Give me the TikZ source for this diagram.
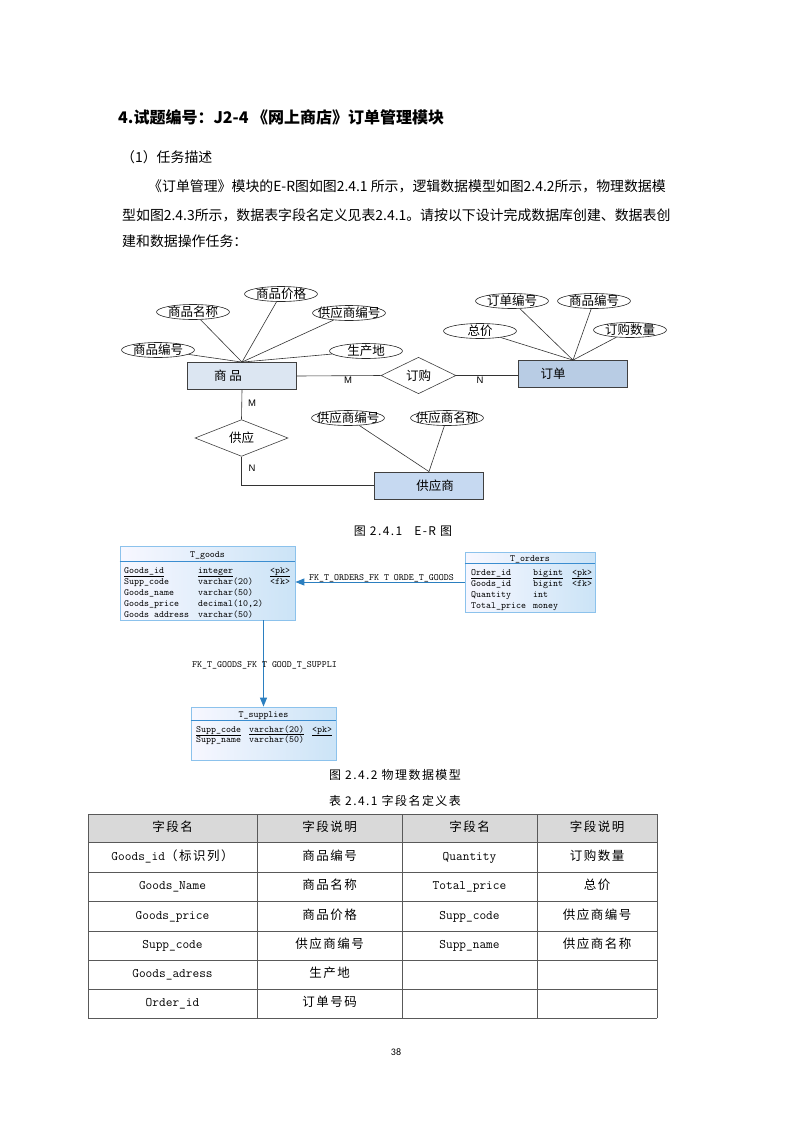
\documentclass[tikz,border=0pt]{standalone}
\usepackage{fontspec}
\newfontfamily\cjk{Noto Sans CJK SC}
\newfontfamily\cjksp[LetterSpace=12]{Noto Sans CJK SC}
\newfontfamily\pnum{Carlito}
\newfontfamily\lsans{Liberation Sans}
\usetikzlibrary{shapes.geometric,arrows.meta,calc}
\definecolor{gfill}{HTML}{DCE6F2}
\definecolor{ofill}{HTML}{B8CCE4}
\definecolor{sfill}{HTML}{C6D9F1}
\definecolor{boxc}{HTML}{8CC2EC}
\definecolor{sepc}{HTML}{3A8DD0}
\definecolor{fkc}{HTML}{2B7FC0}
\definecolor{hdr}{HTML}{D9D9D9}
\newcommand\et[1]{\smash{\makebox[0pt]{\raisebox{-0.38em}{#1}}}}
\newcommand\fs[1]{\fontsize{#1}{#1}\selectfont}
\begin{document}
\begin{tikzpicture}[x=1pt,y=-1pt,
  ln/.style={draw=black!80, line width=0.6pt},
  ent/.style={draw=black!75, line width=0.8pt, fill=#1, minimum width=109pt, minimum height=27pt, inner sep=0pt},
  entlab/.style={font=\cjk\fs{12.5}},
  attr/.style={ellipse, draw=black!85, line width=0.6pt, fill=white, minimum width=73pt, minimum height=15pt, inner sep=0pt, font=\cjk\fs{12.5}},
  rel/.style={diamond, draw=black!75, line width=0.6pt, fill=white, inner sep=0pt, font=\cjk\fs{12.5}},
  card/.style={font=\lsans\fs{9.5}, inner sep=0pt},
  tbox/.style={draw=boxc, line width=0.8pt, left color=blue!3, right color=boxc!45, inner sep=0pt},
  sepl/.style={draw=sepc, line width=1.3pt},
  tt/.style={font=\ttfamily\fs{9.5}, inner sep=0pt, anchor=west, text height=6.5pt, text depth=2.5pt},
  ttc/.style={font=\ttfamily\fs{9.5}, inner sep=0pt, text height=6.5pt, text depth=2.5pt},
  fk/.style={draw=fkc, line width=1pt, -{Triangle[length=9pt,width=7pt]}},
  body/.style={font=\cjk\fs{13.9}, inner sep=0pt, anchor=west},
  captext/.style={font=\cjksp\fs{12}, inner sep=0pt},
  cell/.style={font=\cjksp\fs{12.5}, inner sep=0pt, text height=9pt, text depth=3pt},
  mcell/.style={font=\ttfamily\fs{13}, inner sep=0pt, text height=9pt, text depth=3pt},
  gridline/.style={draw=black!65, line width=0.9pt}
]
\useasboundingbox[fill=white] (0,0) rectangle (793,1122);

% ---------- heading and text ----------
\node[body, font=\cjk\bfseries\fs{16}] (title) at (118,117) {4.试题编号：J2-4 《网上商店》订单管理模块};
\node[body] (sub) at (121,157) {（1）任务描述};
\node[body] (p1) at (148,186) {《订单管理》模块的E-R图如图2.4.1 所示，逻辑数据模型如图2.4.2所示，物理数据模};
\node[body] (p2) at (122,215) {型如图2.4.3所示，数据表字段名定义见表2.4.1。请按以下设计完成数据库创建、数据表创};
\node[body] (p3) at (122,241) {建和数据操作任务：};

% ---------- E-R diagram ----------
\node[ent=gfill, label={[entlab, xshift=-14pt]center:商\ 品}] (sp) at (242,376) {};
\node[ent=ofill, label={[entlab, xshift=-20pt]center:订单}] (dd) at (573,374) {};
\node[ent=sfill, label={[entlab, xshift=6pt]center:供应商}] (gys) at (429,485.5) {};

\node[attr] (a1) at (281,294) {\et{商品价格}};
\node[attr] (a2) at (193,312) {\et{商品名称}};
\node[attr] (a3) at (349,313) {\et{供应商编号}};
\node[attr] (a4) at (158,350) {\et{商品编号}};
\node[attr] (a5) at (366,351) {\et{生产地}};

\node[attr] (b1) at (512,301) {\et{订单编号}};
\node[attr] (b2) at (594,301) {\et{商品编号}};
\node[attr] (b3) at (480,331) {\et{总价}};
\node[attr] (b4) at (630,330) {\et{订购数量}};

\node[attr] (c1) at (348,418) {\et{供应商编号}};
\node[attr] (c2) at (447,418) {\et{供应商名称}};

\node[rel, minimum width=75pt, minimum height=35pt] (dg) at (418.5,375.5) {订购};
\node[rel, minimum width=93pt, minimum height=34pt] (gy) at (241.5,438) {供应};

\foreach \a in {a1,a2,a3,a4,a5} \draw[ln] (sp.north) -- (\a);
\foreach \b in {b1,b2,b3,b4} \draw[ln] (dd.north) -- (\b);
\foreach \c in {c1,c2} \draw[ln] (gys.north) -- (\c);

\draw[ln] (sp.east) -- (dg.west);
\draw[ln] (dg.east) -- (dd.west |- dg.east);
\draw[ln] (sp.south) -- (gy.north);
\draw[ln] (gy.south) -- (gy.south |- gys.west) -- (gys.west);

\node[card] (m1) at (348,380) {M};
\node[card] (n1) at (480,380) {N};
\node[card] (m2) at (252,403) {M};
\node[card] (n2) at (252,468) {N};

\node[captext] (cap1) at (403,531) {图 2.4.1\quad E-R 图};

% ---------- physical model ----------
\node[tbox, minimum width=175pt, minimum height=74pt] (tgood) at (207.5,583) {};
\draw[sepl] ($(tgood.north west)+(0,16)$) -- ($(tgood.north east)+(0,16)$);
\node[ttc] (tgt) at (207.5,555) {T\_goods};
\node[tt] (g1n) at (124,571) {\underline{Goods\_id}};
\node[tt] (g1t) at (198,571) {\underline{integer}};
\node[tt] (g1k) at (270,571) {\underline{<pk>}};
\node[tt] (g2n) at (124,582) {Supp\_code};
\node[tt] (g2t) at (198,582) {varchar(20)};
\node[tt] (g2k) at (270,582) {<fk>};
\node[tt] (g3n) at (124,593) {Goods\_name};
\node[tt] (g3t) at (198,593) {varchar(50)};
\node[tt] (g4n) at (124,604) {Goods\_price};
\node[tt] (g4t) at (198,604) {decimal(10,2)};
\node[tt] (g5n) at (124,615) {Goods address};
\node[tt] (g5t) at (198,615) {varchar(50)};

\node[tbox, minimum width=130pt, minimum height=60pt] (tord) at (530,582) {};
\draw[sepl] ($(tord.north west)+(0,12)$) -- ($(tord.north east)+(0,12)$);
\node[ttc] (tot) at (530,559) {T\_orders};
\node[tt] (o1n) at (471,573) {\underline{Order\_id}};
\node[tt] (o1t) at (533,573) {\underline{bigint}};
\node[tt] (o1k) at (572,573) {\underline{<pk>}};
\node[tt] (o2n) at (471,584) {Goods\_id};
\node[tt] (o2t) at (533,584) {bigint};
\node[tt] (o2k) at (572,584) {<fk>};
\node[tt] (o3n) at (471,595) {Quantity};
\node[tt] (o3t) at (533,595) {int};
\node[tt] (o4n) at (471,606) {Total\_price};
\node[tt] (o4t) at (533,606) {money};

\node[tbox, minimum width=145pt, minimum height=53pt] (tsup) at (263.5,733.5) {};
\draw[sepl] ($(tsup.north west)+(0,14)$) -- ($(tsup.north east)+(0,14)$);
\node[ttc] (tst) at (263.5,715) {T\_supplies};
\node[tt] (s1n) at (196,730) {\underline{Supp\_code}};
\node[tt] (s1t) at (249,730) {\underline{varchar(20)}};
\node[tt] (s1k) at (312,730) {\underline{<pk>}};
\node[tt] (s2n) at (196,740) {Supp\_name};
\node[tt] (s2t) at (249,740) {varchar(50)};

\draw[fk] (tord.west) -- (tgood.east |- tord.west);
\draw[fk] (tgood.south -| tsup.north) -- (tsup.north);
\node[tt] (fk1) at (309,578) {FK\_T\_ORDERS\_FK T ORDE\_T\_GOODS};
\node[tt] (fk2) at (192,665) {FK\_T\_GOODS\_FK T GOOD\_T\_SUPPLI};

\node[captext] (cap2) at (395,775) {图 2.4.2 物理数据模型};
\node[captext] (cap3) at (395,801) {表 2.4.1 字段名定义表};

% ---------- table ----------
\fill[hdr] (88,814) rectangle (657,842);
\foreach \y in {814,842,872,901,931,960,989,1018} \draw[gridline] (88,\y) -- (657,\y);
\foreach \x in {88,257,402,537,657} \draw[gridline] (\x,814) -- (\x,1018);

\node[cell] (h1) at (172.5,828) {字段名};
\node[cell] (h2) at (329.5,828) {字段说明};
\node[cell] (h3) at (469.5,828) {字段名};
\node[cell] (h4) at (597,828) {字段说明};

\node[mcell] (r1a) at (172.5,857) {Goods\_id{\cjksp\fs{12.5}（标识列）}};
\node[cell] (r1b) at (329.5,857) {商品编号};
\node[mcell] (r1c) at (469.5,857) {Quantity};
\node[cell] (r1d) at (597,857) {订购数量};

\node[mcell] (r2a) at (172.5,886.5) {Goods\_Name};
\node[cell] (r2b) at (329.5,886.5) {商品名称};
\node[mcell] (r2c) at (469.5,886.5) {Total\_price};
\node[cell] (r2d) at (597,886.5) {总价};

\node[mcell] (r3a) at (172.5,916) {Goods\_price};
\node[cell] (r3b) at (329.5,916) {商品价格};
\node[mcell] (r3c) at (469.5,916) {Supp\_code};
\node[cell] (r3d) at (597,916) {供应商编号};

\node[mcell] (r4a) at (172.5,945.5) {Supp\_code};
\node[cell] (r4b) at (329.5,945.5) {供应商编号};
\node[mcell] (r4c) at (469.5,945.5) {Supp\_name};
\node[cell] (r4d) at (597,945.5) {供应商名称};

\node[mcell] (r5a) at (172.5,974.5) {Goods\_adress};
\node[cell] (r5b) at (329.5,974.5) {生产地};

\node[mcell] (r6a) at (172.5,1003.5) {Order\_id};
\node[cell] (r6b) at (329.5,1003.5) {订单号码};

\node[font=\pnum\fs{10}, inner sep=0pt] (pg) at (396,1052) {38};
\end{tikzpicture}
\end{document}
